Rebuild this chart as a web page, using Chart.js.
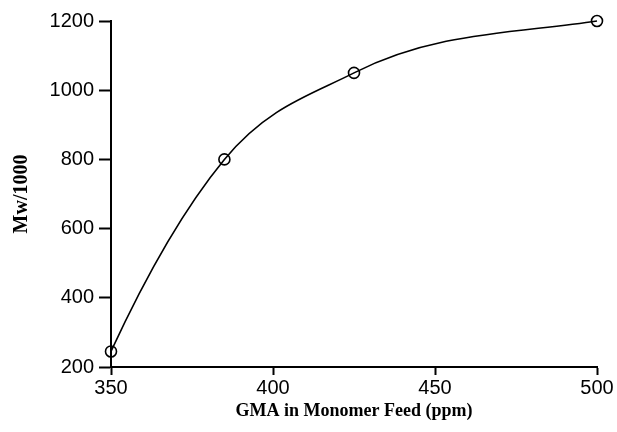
<!DOCTYPE html>
<html>
<head>
<meta charset="utf-8">
<script src="https://cdn.jsdelivr.net/npm/chart.js@4/dist/chart.umd.min.js"></script>
<style>
  html, body { margin: 0; padding: 0; background: #fff; }
  #wrap { width: 617px; height: 432px; }
</style>
</head>
<body>
<div id="wrap"><canvas id="myChart" width="617" height="432"></canvas></div>
<script>
// GMA feed (ppm) vs molecular weight Mw/1000
const gmaFeed = [350, 385, 425, 500];
const mwK = [245, 800, 1050, 1200];
const xTicks = [350, 400, 450, 500];
const yTicks = [200, 400, 600, 800, 1000, 1200];

const points = gmaFeed.map((x, i) => ({ x: x, y: mwK[i] }));

// slopes for a smooth x-based Hermite curve: 3-point parabola derivative,
// last end kept rising
function hermiteSlopes(xs, ys) {
    const n = xs.length;
    const d = [], h = [];
    for (let i = 0; i < n - 1; i++) {
        h.push(xs[i + 1] - xs[i]);
        d.push((ys[i + 1] - ys[i]) / h[i]);
    }
    const m = new Array(n);
    for (let i = 1; i < n - 1; i++) {
        m[i] = (h[i] * d[i - 1] + h[i - 1] * d[i]) / (h[i - 1] + h[i]);
    }
    m[0] = ((2 * h[0] + h[1]) * d[0] - h[0] * d[1]) / (h[0] + h[1]);
    const k = n - 2;
    const end = ((2 * h[k] + h[k - 1]) * d[k] - h[k] * d[k - 1]) / (h[k] + h[k - 1]);
    m[n - 1] = Math.max(end, d[k] * 0.7);
    return m;
}

const smoothCurve = {
    id: 'smoothCurve',
    beforeDatasetDraw(chart, args) {
        const meta = args.meta;
        const line = meta.dataset;
        if (!line) return;
        line.updateControlPoints(chart.chartArea);
        const xs = gmaFeed, ys = mwK;
        const m = hermiteSlopes(xs, ys);
        const sx = chart.scales.x, sy = chart.scales.y;
        meta.data.forEach((pt, i) => {
            if (i > 0) {
                const hp = (xs[i] - xs[i - 1]) / 3;
                pt.cp1x = sx.getPixelForValue(xs[i] - hp);
                pt.cp1y = sy.getPixelForValue(ys[i] - m[i] * hp);
            }
            if (i < xs.length - 1) {
                const hn = (xs[i + 1] - xs[i]) / 3;
                pt.cp2x = sx.getPixelForValue(xs[i] + hn);
                pt.cp2y = sy.getPixelForValue(ys[i] + m[i] * hn);
            }
        });
    }
};

const tickFont = { family: "'Liberation Sans', Arial, sans-serif", size: 20 };
const xTitleFont = { family: "'Liberation Serif', 'Times New Roman', serif", size: 18, weight: 'bold' };
const yTitleFont = { family: "'Liberation Serif', 'Times New Roman', serif", size: 20, weight: 'bold' };

var ctx = document.getElementById('myChart').getContext('2d');
var myChart = new Chart(ctx, {
    type: 'scatter',
    plugins: [smoothCurve],
    data: {
        datasets: [{
            label: 'Mw/1000',
            data: points,
            showLine: true,
            tension: 0.4,
            clip: false,
            borderColor: '#000',
            borderWidth: 1.6,
            pointStyle: 'circle',
            pointRadius: 5.5,
            pointBorderWidth: 1.6,
            pointBorderColor: '#000',
            pointBackgroundColor: 'rgba(255,255,255,0)',
            fill: false
        }]
    },
    options: {
        responsive: false,
        animation: false,
        layout: { padding: { left: 0, right: 20, top: 21, bottom: 0 } },
        plugins: { legend: { display: false }, tooltip: { enabled: false } },
        scales: {
            x: {
                type: 'linear',
                min: 350,
                max: 500,
                afterBuildTicks: (s) => { s.ticks = xTicks.map(v => ({ value: v })); },
                afterFit: (s) => { s.height = 65; },
                border: { display: true, color: '#000', width: 2 },
                grid: { display: true, drawOnChartArea: false, tickLength: 8, tickWidth: 2, tickColor: '#000' },
                ticks: { color: '#000', font: tickFont, padding: 1, maxRotation: 0, callback: (v) => String(v) },
                title: { display: true, text: 'GMA in Monomer Feed (ppm)', color: '#000', font: xTitleFont, padding: { top: 0, bottom: 10 } }
            },
            y: {
                type: 'linear',
                min: 200,
                max: 1200,
                afterBuildTicks: (s) => { s.ticks = yTicks.map(v => ({ value: v })); },
                afterFit: (s) => { s.width = 111; },
                border: { display: true, color: '#000', width: 2 },
                grid: { display: true, drawOnChartArea: false, tickLength: 12, tickWidth: 2, tickColor: '#000' },
                ticks: { color: '#000', font: tickFont, padding: 5, callback: (v) => String(v) },
                title: { display: true, text: 'Mw/1000', color: '#000', font: yTitleFont, padding: { top: 10, bottom: 0 } }
            }
        }
    }
});
</script>
</body>
</html>
